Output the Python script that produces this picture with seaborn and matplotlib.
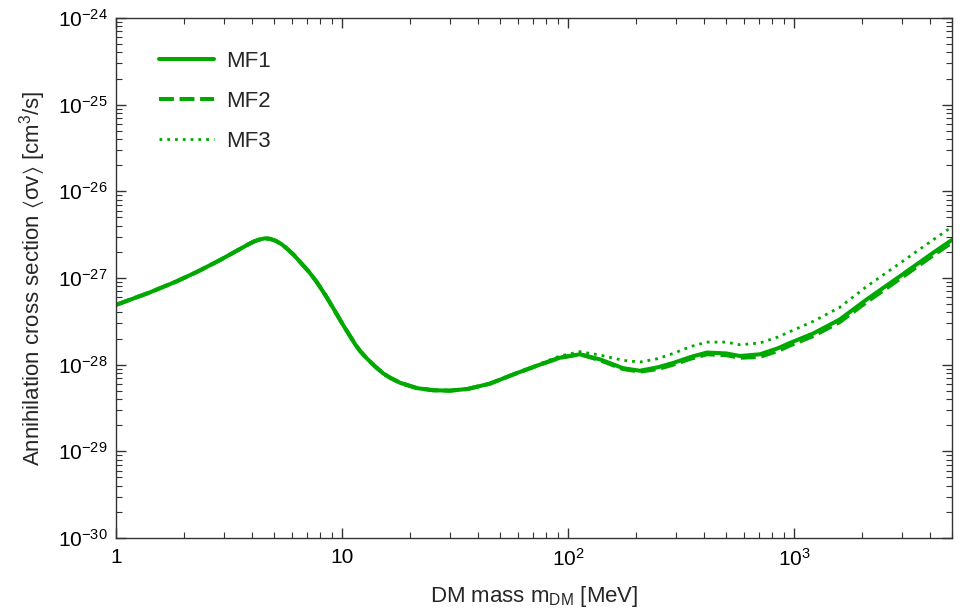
import numpy as np
import pandas as pd
import matplotlib
matplotlib.use("Agg")
import matplotlib.pyplot as plt
import matplotlib.ticker as mticker
import seaborn as sns

# ---- data ----
# DM masses [MeV]
mass_low = [1, 1.4, 1.85, 2.3, 2.9, 3.4, 3.8, 4.05, 4.3, 4.56, 4.8, 5.1, 5.4, 5.7, 6.1, 6.5,
            7.2, 7.7, 8.5, 9.2, 10.1, 10.85, 11.4, 12, 12.9, 14, 15.2, 16.3, 18.1, 21.4, 25.3,
            30, 36, 45, 59]
mass_high = [75, 92, 113, 139, 175, 208, 250, 292, 350, 412, 500, 577, 707, 850, 957, 1216,
             1590, 2090, 2940, 4120, 5000]

# log10 <sigma v> [cm^3/s]; all three curves coincide below ~60 MeV
log_sv_low = [-27.31, -27.17, -27.04, -26.925, -26.79, -26.69, -26.62, -26.582, -26.557, -26.542,
              -26.548, -26.572, -26.61, -26.66, -26.73, -26.81, -26.94, -27.04, -27.21, -27.36,
              -27.54, -27.67, -27.76, -27.84, -27.93, -28.02, -28.10, -28.15, -28.21, -28.27,
              -28.295, -28.30, -28.28, -28.22, -28.10]
log_sv_mf1_high = [-28.00, -27.92, -27.88, -27.94, -28.04, -28.07, -28.03, -27.98, -27.91, -27.86,
                   -27.87, -27.90, -27.88, -27.81, -27.75, -27.64, -27.48, -27.25, -26.98, -26.71,
                   -26.56]
log_sv_mf2_high = [-28.00, -27.92, -27.88, -27.95, -28.05, -28.08, -28.05, -28.00, -27.93, -27.88,
                   -27.89, -27.92, -27.91, -27.84, -27.78, -27.67, -27.51, -27.28, -27.01, -26.74,
                   -26.59]
log_sv_mf3_high = [-27.99, -27.90, -27.85, -27.89, -27.95, -27.97, -27.93, -27.87, -27.79, -27.74,
                   -27.74, -27.77, -27.75, -27.68, -27.62, -27.50, -27.34, -27.10, -26.83, -26.56,
                   -26.41]

series_names = ["MF1", "MF2", "MF3"]
x_tick_values = [1, 10, 100, 1000]
x_tick_labels = ["1", "10", r"$10^{2}$", r"$10^{3}$"]
y_tick_values = [1e-30, 1e-29, 1e-28, 1e-27, 1e-26, 1e-25, 1e-24]
y_tick_labels = [r"$10^{-30}$", r"$10^{-29}$", r"$10^{-28}$", r"$10^{-27}$",
                 r"$10^{-26}$", r"$10^{-25}$", r"$10^{-24}$"]

# ---- build long-form table ----
mass = mass_low + mass_high
frames = []
for name, tail in zip(series_names, [log_sv_mf1_high, log_sv_mf2_high, log_sv_mf3_high]):
    vals = log_sv_low + tail
    frames.append(pd.DataFrame({"mass": mass, "sv": np.power(10.0, vals), "model": name}))
df = pd.concat(frames, ignore_index=True)

sns.set_theme(style="white")
plt.rcParams["font.family"] = ["Liberation Sans", "DejaVu Sans"]
plt.rcParams["mathtext.fontset"] = "custom"
plt.rcParams["mathtext.rm"] = "Liberation Sans"
plt.rcParams["mathtext.it"] = "Liberation Sans:italic"
plt.rcParams["mathtext.default"] = "regular"

fig = plt.figure(figsize=(9.71, 6.16), dpi=100)
ax = fig.add_axes([116 / 971, 1 - 538 / 616, 836 / 971, 520 / 616])

green = "#00a900"
styles = {
    "MF1": dict(lw=2.9, dashes=None),
    "MF2": dict(lw=2.9, dashes=(3.7, 1.4)),
    "MF3": dict(lw=2.0, dashes=(1.0, 1.8)),
}
for name in series_names:
    sub = df[df["model"] == name]
    st = styles[name]
    sns.lineplot(data=sub, x="mass", y="sv", ax=ax, color=green, linewidth=st["lw"],
                 label=name, solid_joinstyle="round", solid_capstyle="round")
    ln = ax.get_lines()[-1]
    if st["dashes"] is not None:
        ln.set_dashes(st["dashes"])
        ln.set_dash_capstyle("butt")

ax.set_xscale("log")
ax.set_yscale("log")
ax.set_xlim(1, 5000)
ax.set_ylim(1e-30, 1e-24)

ax.xaxis.set_major_locator(mticker.FixedLocator(x_tick_values))
ax.xaxis.set_major_formatter(mticker.FixedFormatter(x_tick_labels))
ax.xaxis.set_minor_locator(mticker.LogLocator(base=10, subs=np.arange(2, 10), numticks=20))
ax.xaxis.set_minor_formatter(mticker.NullFormatter())
ax.yaxis.set_major_locator(mticker.FixedLocator(y_tick_values))
ax.yaxis.set_major_formatter(mticker.FixedFormatter(y_tick_labels))
ax.yaxis.set_minor_locator(mticker.LogLocator(base=10, subs=np.arange(2, 10), numticks=20))
ax.yaxis.set_minor_formatter(mticker.NullFormatter())

ax.tick_params(which="both", direction="in", top=True, right=True, left=True, bottom=True,
               colors="#333333", labelcolor="black", labelsize=15)
ax.tick_params(which="major", length=7, width=1)
ax.tick_params(which="minor", length=4, width=0.8)
ax.tick_params(axis="x", pad=7)
ax.tick_params(axis="y", pad=6)
for sp in ax.spines.values():
    sp.set_color("#333333")
    sp.set_linewidth(1.0)

ax.set_xlabel(r"DM mass m$_{\rm DM}$ [MeV]", fontsize=16, labelpad=10)
ax.set_ylabel(r"Annihilation cross section $\langle\sigma v\rangle$ [cm$^3$/s]", fontsize=16, labelpad=7)

leg = ax.legend(loc="upper left", bbox_to_anchor=(0.027, 0.975), frameon=False, fontsize=16,
                handlelength=2.5, handletextpad=0.55, labelspacing=0.85)

fig.savefig("out.png", dpi=100)
